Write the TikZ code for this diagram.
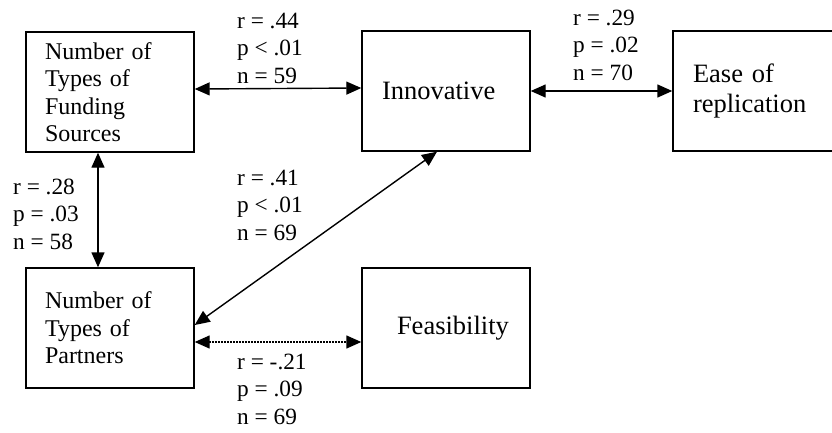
\documentclass[tikz,border=0pt]{standalone}
\usepackage{fontspec}
\setmainfont{Liberation Serif}
\usetikzlibrary{arrows.meta}

\tikzset{
  box/.style={draw, line width=1.4pt, minimum width=168pt, minimum height=120pt,
    inner sep=0pt, align=left, text width=130pt, font=\fontsize{24}{27.5}\selectfont},
  bigbox/.style={box, text width=128pt, font=\fontsize{26.5}{29.5}\selectfont},
  stat/.style={anchor=west, inner sep=0pt, align=left, font=\fontsize{23.3}{27.5}\selectfont},
  link/.style={line width=1.4pt, {Triangle[length=15pt,width=13pt]}-{Triangle[length=15pt,width=13pt]}},
}

\begin{document}
\begin{tikzpicture}[x=1pt,y=-1pt]
\useasboundingbox (0,0) rectangle (832,432);

% boxes
\node[box] (funding) at (110,92) {Number of\\Types of\\Funding\\Sources};
\node[bigbox] (innov) at (446,91) {Innovative};
\node[bigbox] (ease) at (757,91) {Ease of\\replication};
\node[box] (partners) at (110,328) {Number of\\Types of\\Partners};
\node[bigbox] (feas) at (446,328) {\hspace*{15pt}Feasibility};

% correlations
\draw[link] ([yshift=3pt]funding.east) -- ([yshift=3pt]innov.west);
\draw[link] (innov.east) -- (ease.west);
\draw[link] ([xshift=-12pt]funding.south) -- ([xshift=-12pt]partners.north);
\draw[link] ([xshift=-9pt]innov.south) -- ([yshift=3pt]partners.east);
\draw[link, dash pattern=on 1.4pt off 1.6pt]
  ([yshift=-14pt]partners.east) -- ([yshift=-14pt]feas.west);

\node[stat] (s44) at (237,48) {r = .44\\p < .01\\n = 59};
\node[stat] (s29) at (573,45) {r = .29\\p = .02\\n = 70};
\node[stat] (s28) at (13,214) {r = .28\\p = .03\\n = 58};
\node[stat] (s41) at (237,205) {r = .41\\p < .01\\n = 69};
\node[stat] (s21) at (237,389) {r = -.21\\p = .09\\n = 69};
\end{tikzpicture}
\end{document}
